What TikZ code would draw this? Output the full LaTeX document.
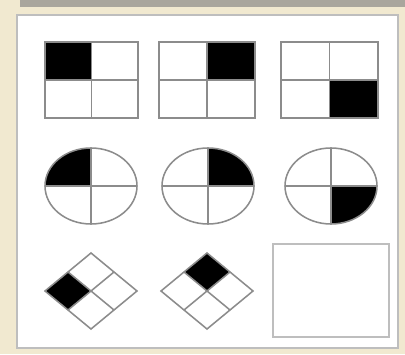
\documentclass[tikz,border=0pt]{standalone}
\usepackage{tikz}
\definecolor{paperBeige}{RGB}{241,233,208}
\definecolor{frameGray}{RGB}{190,190,190}
\definecolor{cellGray}{RGB}{140,140,140}
\begin{document}
\begin{tikzpicture}[x=0.025cm, y=0.025cm,
  cellline/.style={draw=cellGray, line width=1.1pt},
  blackcell/.style={fill=black},
  answerbox/.style={draw=frameGray, line width=2pt, fill=white}]
  % page and panel
  \fill[paperBeige] (0,0) rectangle (405,354);
  \fill[paperBeige!55!black!70] (20,347) rectangle (405,354);
  \draw[frameGray, line width=1.2pt, fill=white] (17,6) rectangle (398,339);
  % row 1: squares
  \fill[blackcell] (45,274) rectangle (91.5,312);
  \draw[cellline] (45,236) rectangle (138,312) (91.5,236) -- (91.5,312) (45,274) -- (138,274);
  \fill[blackcell] (207,274) rectangle (255,312);
  \draw[cellline] (159,236) rectangle (255,312) (207,236) -- (207,312) (159,274) -- (255,274);
  \fill[blackcell] (329.5,236) rectangle (378,274);
  \draw[cellline] (281,236) rectangle (378,312) (329.5,236) -- (329.5,312) (281,274) -- (378,274);
  % row 2: ellipses
  \fill[blackcell] (91,168) -- (45,168) arc[start angle=180, end angle=90, x radius=46, y radius=38] -- cycle;
  \draw[cellline] (91,168) ellipse[x radius=46, y radius=38] (45,168) -- (137,168) (91,130) -- (91,206);
  \fill[blackcell] (208,168) -- (254,168) arc[start angle=0, end angle=90, x radius=46, y radius=38] -- cycle;
  \draw[cellline] (208,168) ellipse[x radius=46, y radius=38] (162,168) -- (254,168) (208,130) -- (208,206);
  \fill[blackcell] (331,168) -- (377,168) arc[start angle=0, end angle=-90, x radius=46, y radius=38] -- cycle;
  \draw[cellline] (331,168) ellipse[x radius=46, y radius=38] (285,168) -- (377,168) (331,130) -- (331,206);
  % row 3: diamonds and empty answer box
  \fill[blackcell] (45,63) -- (68,82) -- (91,63) -- (68,44) -- cycle;
  \draw[cellline] (45,63) -- (91,101) -- (137,63) -- (91,25) -- cycle (68,82) -- (114,44) (114,82) -- (68,44);
  \fill[blackcell] (207,101) -- (230,82) -- (207,63) -- (184,82) -- cycle;
  \draw[cellline] (161,63) -- (207,101) -- (253,63) -- (207,25) -- cycle (184,82) -- (230,44) (230,82) -- (184,44);
  \draw[answerbox] (273,17) rectangle (389,110);
\end{tikzpicture}
\end{document}
